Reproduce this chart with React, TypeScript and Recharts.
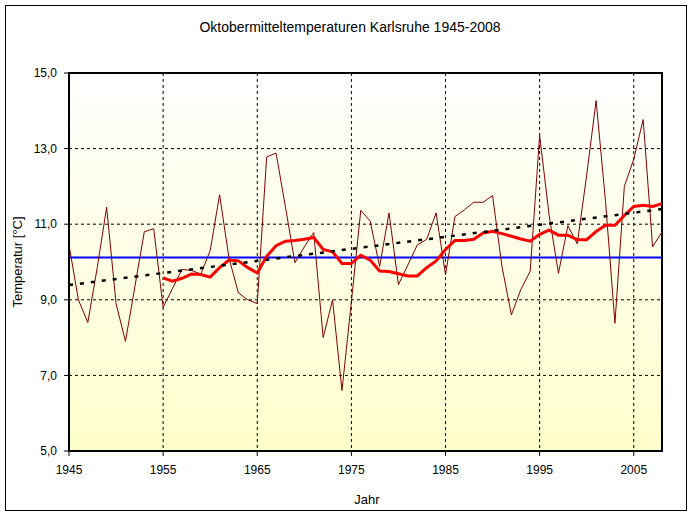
import React from 'react';
import {
  LineChart,
  Line,
  XAxis,
  YAxis,
  CartesianGrid,
  ReferenceLine,
  ReferenceArea,
} from 'recharts';

const years = [
  1945, 1946, 1947, 1948, 1949, 1950, 1951, 1952, 1953, 1954,
  1955, 1956, 1957, 1958, 1959, 1960, 1961, 1962, 1963, 1964,
  1965, 1966, 1967, 1968, 1969, 1970, 1971, 1972, 1973, 1974,
  1975, 1976, 1977, 1978, 1979, 1980, 1981, 1982, 1983, 1984,
  1985, 1986, 1987, 1988, 1989, 1990, 1991, 1992, 1993, 1994,
  1995, 1996, 1997, 1998, 1999, 2000, 2001, 2002, 2003, 2004,
  2005, 2006, 2007, 2008,
];

const octoberTemps = [
  10.45, 9.0, 8.4, 9.85, 11.45, 8.9, 7.9, 9.35, 10.8, 10.88,
  8.8, 9.3, 9.8, 9.78, 9.68, 10.3, 11.78, 10.1, 9.18, 9.0,
  8.9, 12.78, 12.88, 11.45, 9.98, 10.4, 10.78, 8.0, 9.0, 6.6,
  8.95, 11.37, 11.08, 9.88, 11.3, 9.4, 9.92, 10.45, 10.6, 11.3,
  9.66, 11.2, 11.38, 11.58, 11.58, 11.76, 9.88, 8.6, 9.27, 9.76,
  13.35, 11.25, 9.7, 10.96, 10.48, 12.3, 14.27, 11.6, 8.38, 12.0,
  12.72, 13.77, 10.4, 10.8,
];

const movingAverage = [
  null, null, null, null, null, null, null, null, null, null,
  9.58, 9.49, 9.57, 9.68, 9.67, 9.6, 9.85, 10.05, 10.03, 9.85,
  9.71, 10.15, 10.43, 10.55, 10.57, 10.6, 10.65, 10.33, 10.27, 9.96,
  9.96, 10.18, 10.05, 9.76, 9.75, 9.69, 9.63, 9.63, 9.85, 10.03,
  10.33, 10.57, 10.57, 10.6, 10.77, 10.81, 10.75, 10.68, 10.61, 10.55,
  10.73, 10.84, 10.71, 10.71, 10.59, 10.59, 10.81, 10.97, 10.97, 11.23,
  11.47, 11.5, 11.47, 11.54,
];

const meanTemp = 10.12;
const trendStart = 9.39;
const trendEnd = 11.4;

const xTicks = [1945, 1955, 1965, 1975, 1985, 1995, 2005];
const yTicks = [5, 7, 9, 11, 13, 15];

const data = years.map((year, i) => ({
  year,
  temp: octoberTemps[i],
  ma: movingAverage[i],
}));

const FONT = '"Liberation Sans", Arial, sans-serif';

const fmtY = (v: number) => v.toFixed(1).replace('.', ',');

export default function App() {
  return (
    <div
      style={{
        position: 'absolute',
        left: 0,
        top: 0,
        width: 695,
        height: 518,
        background: '#FFFFFF',
        fontFamily: FONT,
      }}
    >
      <div
        style={{
          position: 'absolute',
          left: 5,
          top: 5,
          width: 682,
          height: 506,
          border: '1px solid #000',
          boxSizing: 'border-box',
        }}
      />
      <div style={{ position: 'absolute', left: 0, top: 0 }}>
        <LineChart
          width={695}
          height={518}
          data={data}
          margin={{ top: 73, right: 33, left: 0, bottom: 37 }}
        >
          <defs>
            <linearGradient id="bgGrad" x1="0" y1="0" x2="0" y2="1">
              <stop offset="0%" stopColor="#FFFFFF" />
              <stop offset="100%" stopColor="#FFFFCC" />
            </linearGradient>
          </defs>
          <CartesianGrid
            stroke="#000"
            strokeDasharray="3 3"
            fill="url(#bgGrad)"
            fillOpacity={1}
          />
          <XAxis
            type="number"
            dataKey="year"
            domain={[1945, 2008]}
            ticks={xTicks}
            allowDataOverflow
            height={30}
            axisLine={{ stroke: '#000', strokeWidth: 2 }}
            tickLine={{ stroke: '#000' }}
            tickSize={5}
            tickMargin={9}
            tick={{ fill: '#000', fontSize: 12, fontFamily: FONT }}
          />
          <YAxis
            type="number"
            domain={[5, 15]}
            ticks={yTicks}
            width={69}
            allowDataOverflow
            axisLine={{ stroke: '#000', strokeWidth: 2 }}
            tickLine={{ stroke: '#000' }}
            tickSize={5}
            tickMargin={7}
            tickFormatter={fmtY}
            tick={{ fill: '#000', fontSize: 12, fontFamily: FONT }}
          />
          <ReferenceLine
            y={meanTemp}
            stroke="#0000FF"
            strokeWidth={2}
          />
          <Line
            type="linear"
            dataKey="temp"
            stroke="#800000"
            strokeWidth={1}
            dot={false}
            isAnimationActive={false}
          />
          <Line
            type="linear"
            dataKey="ma"
            stroke="#FF0000"
            strokeWidth={3}
            dot={false}
            isAnimationActive={false}
          />
          <ReferenceLine
            segment={[
              { x: 1945, y: trendStart },
              { x: 2008, y: trendEnd },
            ]}
            stroke="#000"
            strokeWidth={2.5}
            strokeDasharray="4 7"
          />
          <ReferenceArea
            x1={1945}
            x2={2008}
            y1={5}
            y2={15}
            fill="none"
            fillOpacity={0}
            stroke="#000"
            strokeWidth={2}
          />
        </LineChart>
      </div>
      <svg
        width={695}
        height={518}
        style={{ position: 'absolute', left: 0, top: 0, pointerEvents: 'none' }}
      >
        <text
          x={350}
          y={32}
          textAnchor="middle"
          fontSize={14}
          fontFamily={FONT}
          fill="#000"
        >
          Oktobermitteltemperaturen Karlsruhe 1945-2008
        </text>
        <text
          x={367}
          y={504}
          textAnchor="middle"
          fontSize={13}
          fontFamily={FONT}
          fill="#000"
        >
          Jahr
        </text>
        <text
          x={22}
          y={262}
          textAnchor="middle"
          fontSize={13}
          fontFamily={FONT}
          fill="#000"
          transform="rotate(-90, 22, 262)"
        >
          Temperatur [°C]
        </text>
      </svg>
    </div>
  );
}
